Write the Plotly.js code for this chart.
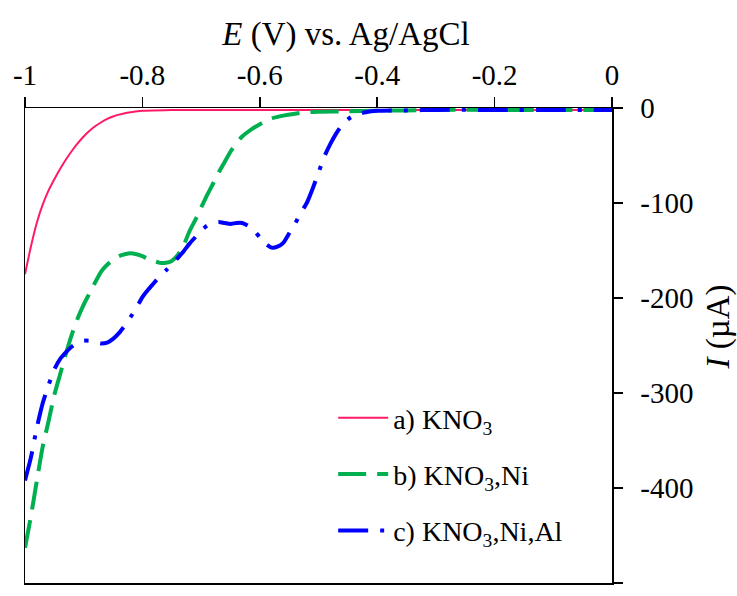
<!DOCTYPE html>
<html>
<head>
<meta charset="utf-8">
<script src="https://cdn.plot.ly/plotly-3.0.1.min.js"></script>
<style>html,body{margin:0;padding:0;background:#fff;}#chart{width:737px;height:596px;}</style>
</head>
<body>
<div id="chart"></div>
<script>
// a) KNO3
const xA = [-1, -0.99, -0.98, -0.97, -0.96, -0.95, -0.94, -0.93, -0.92, -0.91, -0.90, -0.89, -0.88, -0.87, -0.86, -0.85, -0.84, -0.83, -0.82, -0.80, -0.78, -0.75, -0.70, -0.60, -0.50, -0.40, -0.30, -0.20, -0.10, 0];
const yA = [-175, -146, -121, -102, -87, -75, -64, -54, -45, -37, -30, -24, -19, -15, -11.5, -9, -7, -5.5, -4.5, -3, -2.5, -2, -2, -2, -2, -2, -2, -2, -2, -2];

// b) KNO3,Ni
const xB = [-1, -0.99, -0.98, -0.97, -0.96, -0.95, -0.94, -0.93, -0.92, -0.91, -0.90, -0.89, -0.88, -0.87, -0.86, -0.85, -0.84, -0.83, -0.82, -0.81, -0.80, -0.79, -0.78, -0.77, -0.76, -0.75, -0.74, -0.73, -0.72, -0.71, -0.70, -0.69, -0.68, -0.67, -0.66, -0.65, -0.64, -0.63, -0.62, -0.60, -0.58, -0.56, -0.54, -0.52, -0.50, -0.45, -0.40, -0.35, -0.30, -0.20, -0.10, 0];
const yB = [-463, -430, -393, -357, -330, -302, -280, -258, -238, -221, -207, -195, -183, -172, -165, -160, -156, -154, -153, -154, -156, -159, -161, -163, -163, -161, -155, -145, -130, -118, -105, -92, -80, -68, -57, -46, -37, -30, -25, -17, -11, -8, -6, -4.5, -4, -3.5, -3, -2.5, -2, -2, -2, -2];

// c) KNO3,Ni,Al
const xC = [-1, -0.99, -0.98, -0.97, -0.96, -0.95, -0.94, -0.93, -0.92, -0.91, -0.90, -0.89, -0.88, -0.87, -0.86, -0.85, -0.84, -0.83, -0.82, -0.81, -0.80, -0.79, -0.78, -0.77, -0.76, -0.75, -0.74, -0.73, -0.72, -0.71, -0.70, -0.69, -0.68, -0.67, -0.66, -0.65, -0.64, -0.63, -0.62, -0.61, -0.60, -0.59, -0.58, -0.57, -0.56, -0.55, -0.54, -0.53, -0.52, -0.51, -0.50, -0.49, -0.48, -0.47, -0.46, -0.45, -0.44, -0.43, -0.42, -0.40, -0.35, -0.30, -0.20, -0.10, 0];
const yC = [-392, -368, -337, -311, -292, -275, -264, -257, -251, -247, -245, -245, -247, -248, -247, -243, -237, -229, -220, -210, -199, -191, -184, -177, -171, -165, -158, -151, -143, -136, -129, -124, -121, -120, -121, -122, -121, -121, -124, -129, -136, -143, -147, -146, -142, -132, -122, -110, -100, -85, -68, -51, -38, -27, -18, -12, -8, -6, -4.5, -3, -2.5, -2, -2, -2, -2];

const seriesNames = ['a) KNO<sub>3</sub>', 'b) KNO<sub>3</sub>,Ni', 'c) KNO<sub>3</sub>,Ni,Al'];

const xTickVals = [-1, -0.8, -0.6, -0.4, -0.2, 0];
const xTickText = ['-1', '-0.8', '-0.6', '-0.4', '-0.2', '0'];
const yTickVals = [0, -100, -200, -300, -400, -500];
const yTickText = ['0', '-100', '-200', '-300', '-400', '-500'];

const xTitle = '<i>E</i> (V) vs. Ag/AgCl';
const yTitle = '<i>I</i> (µA)';

const FONT = 'Liberation Serif, Times New Roman, serif';

const traces = [
  {x: xA, y: yA, name: seriesNames[0], mode: 'lines', legendgroup: 'a',
   line: {color: '#ff1a66', width: 2, shape: 'spline', smoothing: 0.6}},
  {x: xB, y: yB, name: seriesNames[1], mode: 'lines', legendgroup: 'b',
   line: {color: '#00b050', width: 4, dash: '28px,11px', shape: 'spline', smoothing: 0.6}},
  {x: xC, y: yC, name: seriesNames[2], mode: 'lines', legendgroup: 'c',
   line: {color: '#0000ff', width: 4, dash: '30px,12px,4px,12px', shape: 'spline', smoothing: 0.6}}
];

const layout = {
  width: 737, height: 596,
  margin: {l: 25, r: 125, t: 108, b: 13},
  paper_bgcolor: '#fff', plot_bgcolor: '#fff',
  font: {family: FONT, color: '#000', size: 29},
  title: {text: xTitle, font: {family: FONT, size: 33, color: '#000'},
          x: 346 / 737, xref: 'container', xanchor: 'center',
          y: 1 - 33 / 596, yref: 'container', yanchor: 'middle'},
  showlegend: true,
  legend: {x: 0.525, y: 0.40, xanchor: 'left', yanchor: 'top',
           bgcolor: 'rgba(0,0,0,0)', font: {family: FONT, size: 28, color: '#000'},
           tracegroupgap: 17, itemwidth: 50},
  xaxis: {
    side: 'top', range: [-1, 0], showgrid: false, zeroline: false,
    showline: true, linecolor: '#000', linewidth: 1.5, mirror: true,
    ticks: 'outside', ticklen: 10, tickcolor: '#000', tickwidth: 1.5,
    tickvals: xTickVals, ticktext: xTickText,
    tickfont: {family: FONT, size: 29, color: '#000'}
  },
  yaxis: {
    side: 'right', range: [-500, 0], showgrid: false, zeroline: false,
    showline: true, linecolor: '#000', linewidth: 1.5, mirror: true,
    ticks: 'outside', ticklen: 9, tickcolor: '#000', tickwidth: 1.5,
    ticklabelstandoff: 12,
    tickvals: yTickVals, ticktext: yTickText,
    tickfont: {family: FONT, size: 29, color: '#000'}
  },
  annotations: [{
    text: yTitle, textangle: -90, showarrow: false,
    xref: 'paper', yref: 'paper', x: (718 - 25) / 587, y: (582 - 327) / 474,
    xanchor: 'center', yanchor: 'middle',
    font: {family: FONT, size: 33, color: '#000'}
  }]
};

Plotly.newPlot('chart', traces, layout, {displayModeBar: false, staticPlot: true});
</script>
</body>
</html>
